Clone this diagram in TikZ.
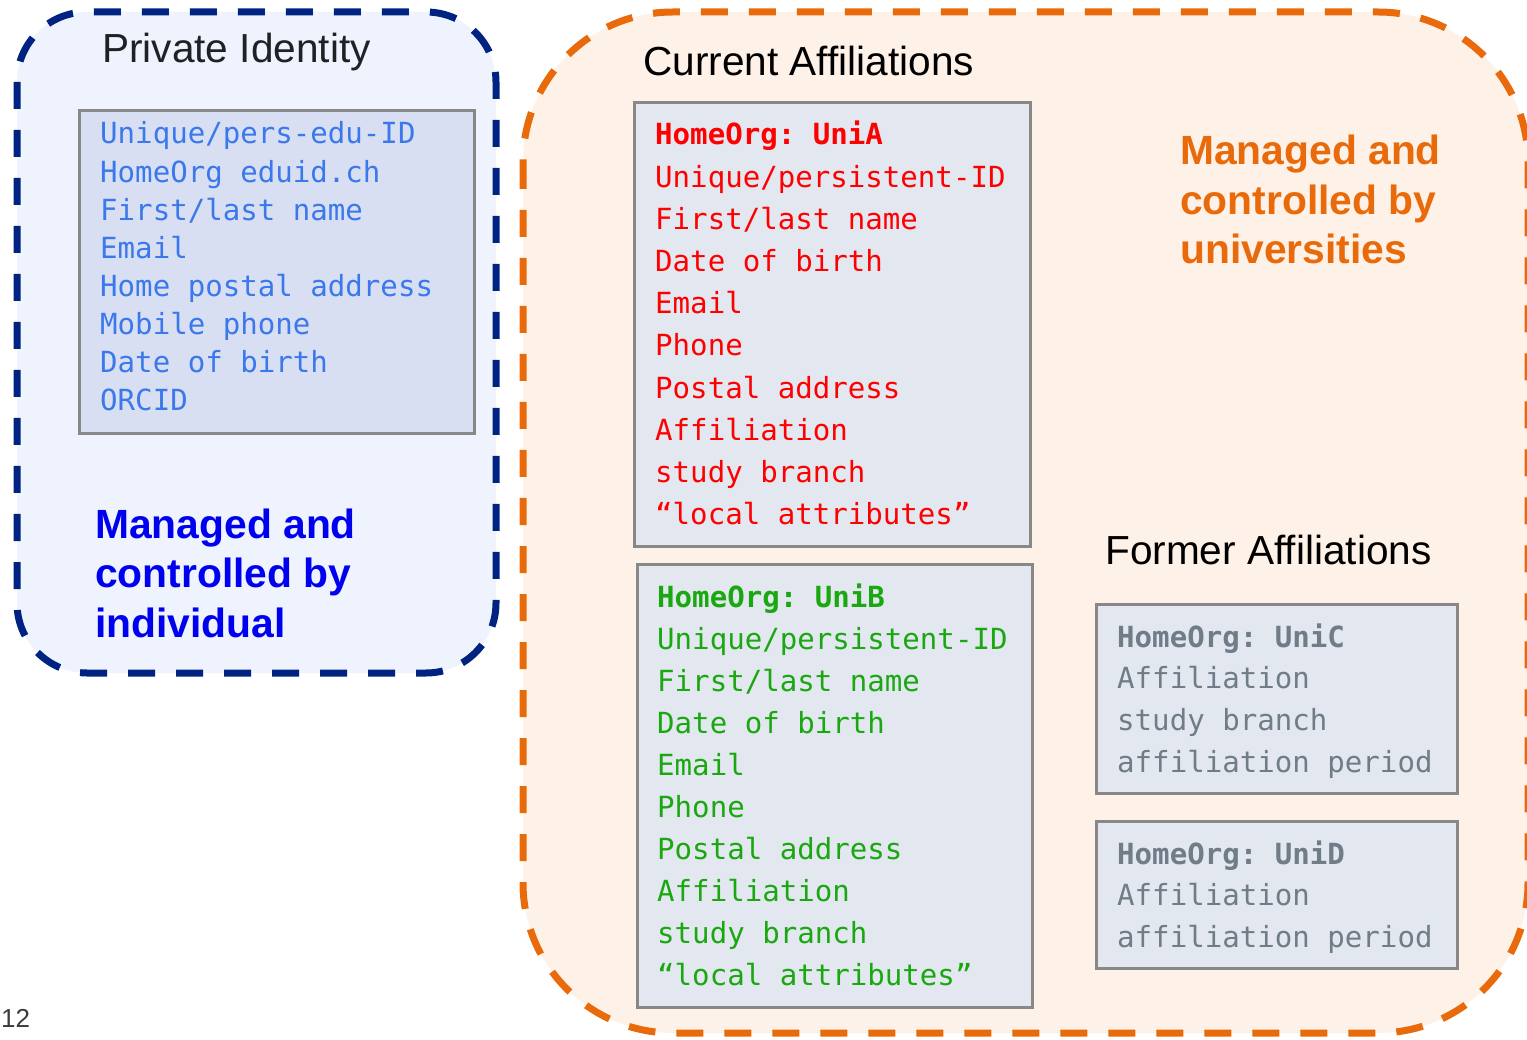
\documentclass[tikz,border=0pt]{standalone}
\usepackage{fontspec}
\setmainfont{Liberation Sans}
\setmonofont{DejaVu Sans Mono}
\definecolor{navy}{RGB}{0,35,130}
\definecolor{uniorange}{RGB}{233,106,10}
\definecolor{indfill}{RGB}{238,243,254}
\definecolor{unifill}{RGB}{254,241,232}
\definecolor{pifill}{RGB}{217,223,242}
\definecolor{cardfill}{RGB}{227,231,240}
\definecolor{cardline}{RGB}{136,136,136}
\definecolor{piblue}{RGB}{59,120,235}
\definecolor{unigreen}{RGB}{26,168,16}
\definecolor{oldgray}{RGB}{112,124,135}
\definecolor{indblue}{RGB}{0,0,240}
\begin{document}
\begin{tikzpicture}[x=1pt,y=-1pt,
  attr/.style={font=\ttfamily\fontsize{29.1}{34}\selectfont,anchor=base west,inner sep=0pt},
  head/.style={attr,font=\ttfamily\bfseries\fontsize{29.1}{34}\selectfont},
  title/.style={font=\fontsize{40.6}{48}\selectfont,anchor=base west,inner sep=0pt},
  big/.style={font=\bfseries\fontsize{40.8}{48}\selectfont,anchor=base west,inner sep=0pt},
  card/.style={draw=cardline,line width=3pt,anchor=north west,inner sep=0pt},
  zone/.style={line width=7pt,dash pattern=on 27pt off 21pt}]
\useasboundingbox (0,0) rectangle (1527,1040);
\clip (0,0) rectangle (1527,1040);
% the two managed zones
\fill[indfill,rounded corners=70pt] (17,12) rectangle (496,673);
\draw[zone,navy,rounded corners=70pt] (17,12) rectangle (496,673);
\fill[unifill,rounded corners=150pt] (523,12) rectangle (1528,1033);
\draw[zone,uniorange,rounded corners=150pt] (523,12) rectangle (1528,1033);
% private identity
\node[title,text={rgb,255:red,32;green,33;blue,36}] (pititle) at (102,63) {Private Identity};
\node[card,fill=pifill,minimum width=395pt,minimum height=323pt] (pibox) at (78,109) {};
\foreach \t [count=\i from 0] in {{Unique/pers-edu-ID},{HomeOrg eduid.ch},{First/last name},Email,{Home postal address},{Mobile phone},{Date of birth},ORCID}
  \node[attr,text=piblue] (pi\i) at ({100},{144+38.1*\i}) {\t};
\foreach \t [count=\i from 0] in {Managed and,controlled by,individual}
  \node[big,text=indblue] (ind\i) at ({95},{538+49.5*\i}) {\t};
% current affiliations
\node[title] (curtitle) at (643,76) {Current Affiliations};
\node[card,fill=cardfill,minimum width=396pt,minimum height=444pt] (unia) at (633,101) {};
\node[head,text=red] (unia0) at (655,145) {HomeOrg: UniA};
\foreach \t [count=\i from 1] in {{Unique/persistent-ID},{First/last name},{Date of birth},Email,Phone,{Postal address},Affiliation,{study branch},{“local attributes”}}
  \node[attr,text=red] (unia\i) at ({655},{145+42.2*\i}) {\t};
\node[card,fill=cardfill,minimum width=395pt,minimum height=443pt] (unib) at (636,563) {};
\node[head,text=unigreen] (unib0) at (657,607) {HomeOrg: UniB};
\foreach \t [count=\i from 1] in {{Unique/persistent-ID},{First/last name},{Date of birth},Email,Phone,{Postal address},Affiliation,{study branch},{“local attributes”}}
  \node[attr,text=unigreen] (unib\i) at ({657},{607+42.1*\i}) {\t};
\foreach \t [count=\i from 0] in {Managed and,controlled by,universities}
  \node[big,text=uniorange] (uni\i) at ({1180},{165+49.5*\i}) {\t};
% former affiliations
\node[title] (oldtitle) at (1105,564) {Former Affiliations};
\node[card,fill=cardfill,minimum width=361pt,minimum height=189pt] (unic) at (1095,603) {};
\node[head,text=oldgray] (unic0) at (1117,647) {HomeOrg: UniC};
\foreach \t [count=\i from 1] in {Affiliation,{study branch},{affiliation period}}
  \node[attr,text=oldgray] (unic\i) at ({1117},{647+41.7*\i}) {\t};
\node[card,fill=cardfill,minimum width=361pt,minimum height=147pt] (unid) at (1095,820) {};
\node[head,text=oldgray] (unid0) at (1117,864) {HomeOrg: UniD};
\foreach \t [count=\i from 1] in {Affiliation,{affiliation period}}
  \node[attr,text=oldgray] (unid\i) at ({1117},{864+41.5*\i}) {\t};
\node[anchor=base west,inner sep=0pt,font=\fontsize{26}{30}\selectfont,text={rgb,255:red,60;green,60;blue,60}] (pageno) at (1,1027) {12};
\end{tikzpicture}
\end{document}
